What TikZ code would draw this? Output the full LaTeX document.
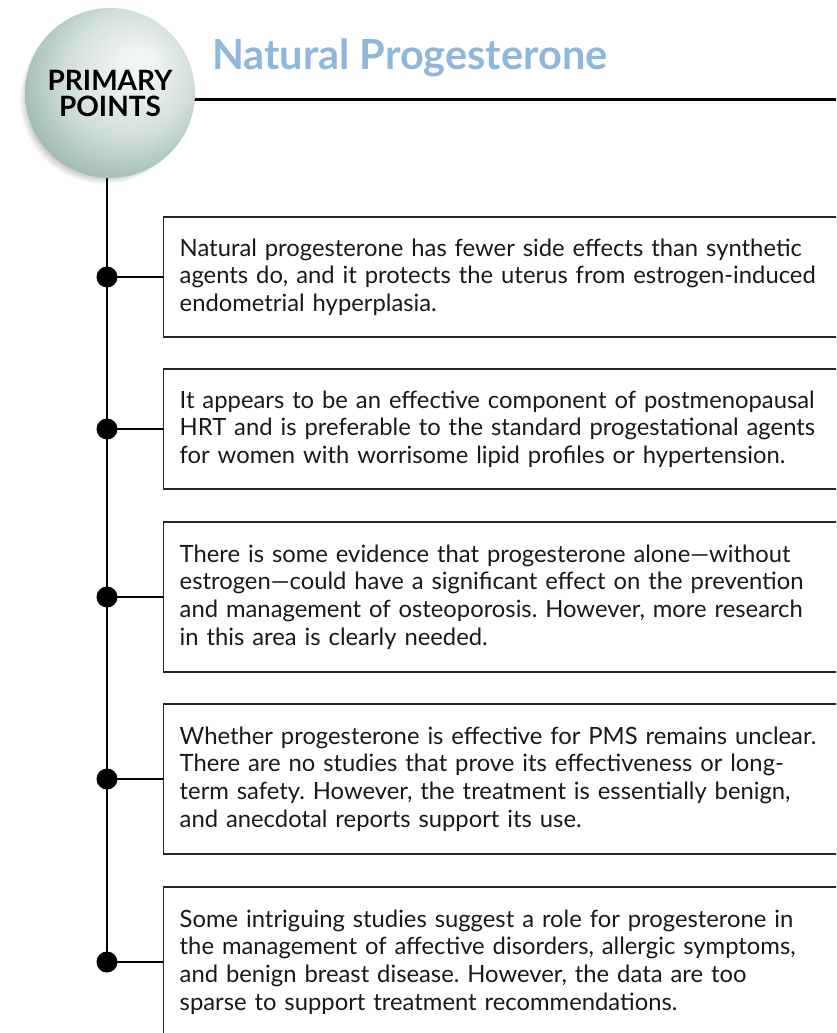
\documentclass[tikz,border=0pt]{standalone}
\usepackage{fontspec}
\setmainfont{Lato}
\usetikzlibrary{shadows}
\definecolor{titleblue}{RGB}{142,183,222}
\definecolor{sA}{RGB}{240,245,242}
\definecolor{sB}{RGB}{208,222,215}
\definecolor{sC}{RGB}{160,189,177}
\definecolor{sD}{RGB}{112,150,135}
\pgfdeclareradialshading{spherepp}{\pgfpoint{9bp}{9bp}}{color(0bp)=(sA); color(5bp)=(sA); color(19bp)=(sB); color(30bp)=(sC); color(38bp)=(sD); color(50bp)=(sD)}
\frenchspacing
\begin{document}
\begin{tikzpicture}[x=1pt,y=-1pt,
  pbox/.style={draw=black!85, line width=1.4pt, rectangle, anchor=west,
    text width=660pt, inner xsep=16pt, inner ysep=0pt, align=left,
    font=\fontsize{23.8}{27.7}\selectfont\frenchspacing, text=black!90},
  pdot/.style={circle, fill=black, inner sep=0pt, minimum size=21pt},
  conn/.style={line width=2.6pt},
  rule/.style={line width=3pt}]
\useasboundingbox (0,0) rectangle (836,1033);
\clip (0,0) rectangle (836,1033);
\coordinate (tr) at (836,99);
% boxes
\node[pbox, minimum height=120pt] (b1) at (163,277) {Natural progesterone has fewer side effects than synthetic\\agents do, and it protects the uterus from estrogen-induced\\endometrial hyperplasia.};
\node[pbox, minimum height=120pt] (b2) at (163,429) {It appears to be an effective component of postmenopausal\\HRT and is preferable to the standard progestational agents\\for women with worrisome lipid profiles or hypertension.};
\node[pbox, minimum height=150pt] (b3) at (163,597) {There is some evidence that progesterone alone---without\\estrogen---could have a significant effect on the prevention\\and management of osteoporosis. However, more research\\in this area is clearly needed.};
\node[pbox, minimum height=150pt] (b4) at (163,779) {Whether progesterone is effective for PMS remains unclear.\\There are no studies that prove its effectiveness or long-\\term safety. However, the treatment is essentially benign,\\and anecdotal reports support its use.};
\node[pbox, minimum height=150pt] (b5) at (163,962) {Some intriguing studies suggest a role for progesterone in\\the management of affective disorders, allergic symptoms,\\and benign breast disease. However, the data are too\\sparse to support treatment recommendations.};
% dots
\node[pdot] (d1) at (107,277) {};
\node[pdot] (d2) at (107,429) {};
\node[pdot] (d3) at (107,597) {};
\node[pdot] (d4) at (107,779) {};
\node[pdot] (d5) at (107,962) {};
\coordinate (spine) at (107,150);
\draw[conn] (spine) -- (d5.center);
\foreach \i in {1,...,5} {\draw[conn] (d\i.center) -- (b\i.west);}
% top rule and circle
\coordinate (pc) at (109,92);
\draw[rule] (pc |- tr) -- (tr);
\node[circle, minimum size=170pt, inner sep=0pt, shade, shading=spherepp,
  circular drop shadow={shadow xshift=-6pt, shadow yshift=-6pt, opacity=0.45, fill=black!70, shadow scale=1.0},
  align=center, font=\fontsize{28}{26}\selectfont\bfseries] (pp) at (110,93) {PRIMARY\\POINTS};
\node[anchor=base west, text=titleblue, inner sep=0pt,
  font=\fontsize{41.5}{48}\selectfont\bfseries] (title) at (212,70) {Natural Progesterone};
\end{tikzpicture}
\end{document}
